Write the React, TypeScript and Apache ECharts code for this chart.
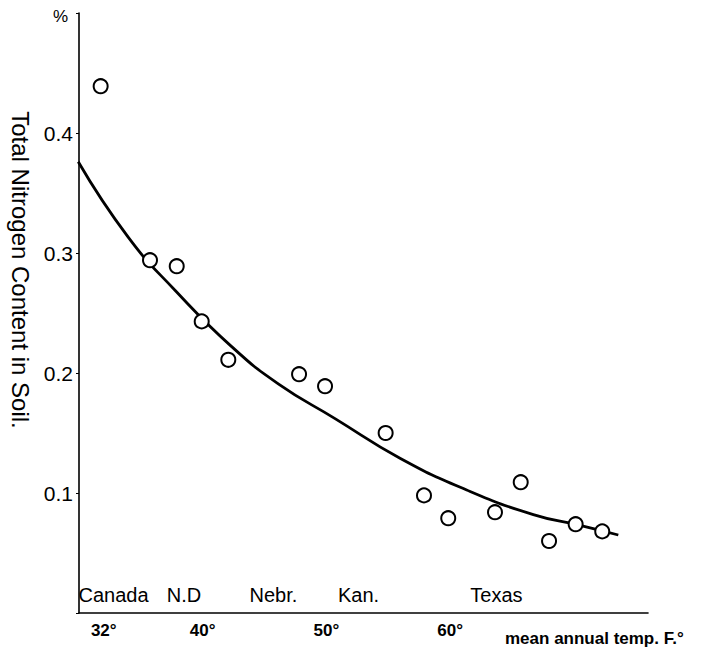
import React, { useEffect, useRef } from "react";
import * as echarts from "echarts";

// Observed samples: mean annual temperature (°F) vs total nitrogen (%)
const sampleTemps = [31.75, 35.74, 37.9, 39.92, 42.07, 47.79, 49.89, 54.79, 57.89, 59.85, 63.63, 65.71, 68.0, 70.15, 72.3];
const sampleNitrogen = [0.439, 0.294, 0.289, 0.243, 0.211, 0.199, 0.189, 0.15, 0.098, 0.079, 0.084, 0.109, 0.06, 0.074, 0.068];

// Hand-drawn fitted curve
const curveTemps = [29.94, 33.99, 37.76, 42.34, 46.11, 50.7, 55.95, 61.34, 66.73, 70.5, 73.6];
const curveNitrogen = [0.376, 0.313, 0.269, 0.222, 0.191, 0.162, 0.129, 0.1025, 0.082, 0.073, 0.065];

// Region labels along the temperature axis
const regionNames = ["Canada", "N.D", "Nebr.", "Kan.", "Texas"];
const regionTemps = [32.79, 38.49, 45.72, 52.6, 63.75];
const regionLevel = 0.015;

const xTickLabels = [32, 40, 50, 60];
const yTickLabels = [0.1, 0.2, 0.3, 0.4];

const sans = '"Liberation Sans", Arial, sans-serif';

export default function App() {
  const ref = useRef<HTMLDivElement>(null);
  useEffect(() => {
    if (!ref.current) return;
    const chart = echarts.init(ref.current, null, { renderer: "svg" });
    chart.setOption({
      animation: false,
      backgroundColor: "#ffffff",
      grid: { left: 79, right: 65, top: 13, bottom: 34 },
      xAxis: {
        type: "value",
        min: 30,
        max: 76,
        interval: 2,
        splitLine: { show: false },
        axisTick: { show: false },
        axisLine: { lineStyle: { color: "#000", width: 1.6 } },
        axisLabel: {
          margin: 9,
          color: "#000",
          fontSize: 17,
          fontWeight: "bold",
          fontFamily: sans,
          showMinLabel: true,
          showMaxLabel: false,
          formatter: (v: number) => (xTickLabels.includes(Math.round(v)) ? `${Math.round(v)}°` : ""),
        },
      },
      yAxis: {
        type: "value",
        min: 0,
        max: 0.5,
        interval: 0.1,
        splitLine: { show: false },
        axisLine: { show: true, lineStyle: { color: "#000", width: 1.6 } },
        axisTick: { show: true, length: 3, lineStyle: { color: "#000" } },
        axisLabel: {
          margin: 6,
          color: "#000",
          fontSize: 21,
          fontFamily: sans,
          formatter: (v: number) => {
            const r = Math.round(v * 10) / 10;
            return yTickLabels.includes(r) ? r.toFixed(1) : "";
          },
        },
      },
      series: [
        {
          type: "line",
          data: curveTemps.map((t, i) => [t, curveNitrogen[i]]),
          smooth: 0.5,
          showSymbol: false,
          symbol: "none",
          lineStyle: { color: "#000", width: 2.8 },
          z: 2,
        },
        {
          type: "scatter",
          data: sampleTemps.map((t, i) => [t, sampleNitrogen[i]]),
          symbol: "circle",
          symbolSize: 14,
          itemStyle: { color: "#fff", borderColor: "#000", borderWidth: 2, opacity: 1 },
          z: 3,
        },
        {
          type: "scatter",
          data: regionTemps.map((t, i) => ({ value: [t, regionLevel], name: regionNames[i] })),
          symbolSize: 0,
          silent: true,
          itemStyle: { opacity: 1 },
          label: {
            show: true,
            position: "inside",
            formatter: (p: any) => p.name,
            color: "#000",
            fontSize: 20,
            fontFamily: sans,
            textBorderWidth: 0,
          },
          z: 4,
        },
      ],
      graphic: [
        {
          type: "text",
          left: 53,
          top: 8,
          style: { text: "%", fontSize: 17, fill: "#000", fontFamily: sans },
        },
        {
          type: "text",
          x: 20,
          y: 270,
          rotation: -Math.PI / 2,
          style: {
            text: "Total Nitrogen Content in Soil.",
            fontSize: 24,
            fill: "#000",
            fontFamily: sans,
            textAlign: "center",
            textVerticalAlign: "middle",
          },
        },
        {
          type: "text",
          x: 505,
          y: 638,
          style: {
            text: "mean annual temp. F.°",
            fontSize: 17,
            fontWeight: "bold",
            fill: "#000",
            fontFamily: sans,
            textAlign: "left",
            textVerticalAlign: "middle",
          },
        },
      ],
    });
    return () => chart.dispose();
  }, []);
  return (
    <div
      ref={ref}
      style={{ position: "fixed", left: 0, top: 0, width: 713, height: 647, background: "#fff" }}
    />
  );
}
